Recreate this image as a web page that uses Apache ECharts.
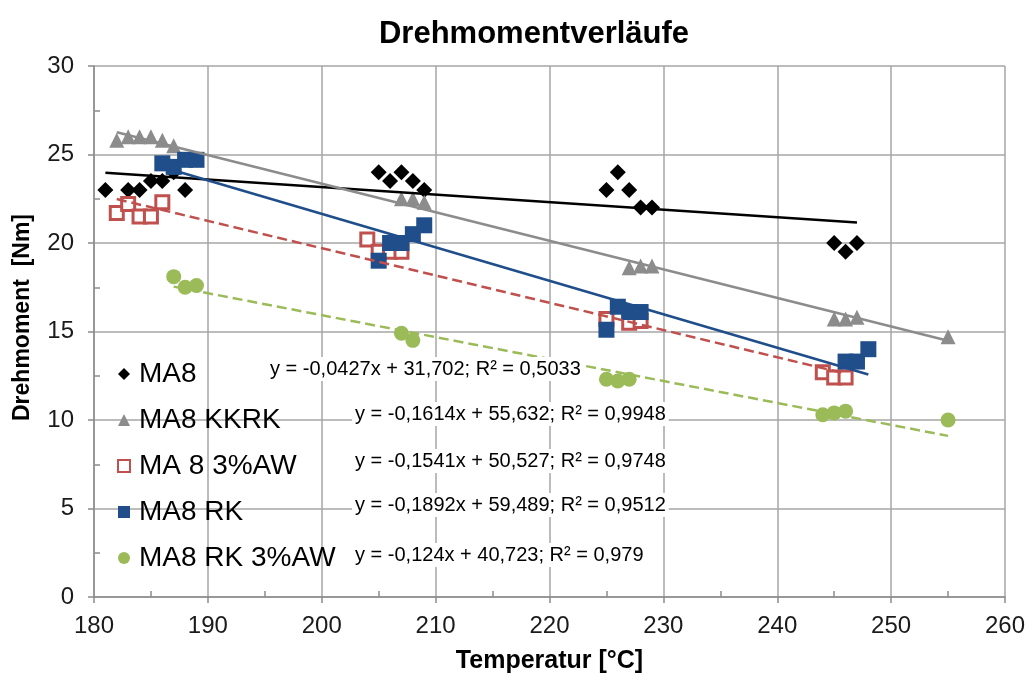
<!DOCTYPE html>
<html>
<head>
<meta charset="utf-8">
<script src="https://cdn.jsdelivr.net/npm/echarts@6/dist/echarts.min.js"></script>
<style>
  html, body { margin: 0; padding: 0; background: #ffffff; }
  #chart { width: 1028px; height: 673px; }
</style>
</head>
<body>
<div id="chart"></div>
<script>
// Torque measurements per material variant: temperature [°C] and torque [Nm]
const seriesNames = ['MA8', 'MA8 KKRK', 'MA 8 3%AW', 'MA8 RK', 'MA8 RK 3%AW'];

const ma8Temp     = [181, 183, 184, 185, 186, 187, 188, 205, 206, 207, 208, 209, 225, 226, 227, 228, 229, 245, 246, 247];
const ma8Torque   = [23, 23, 23, 23.5, 23.5, 24, 23, 24, 23.5, 24, 23.5, 23, 23, 24, 23, 22, 22, 20, 19.5, 20];

const kkrkTemp    = [182, 183, 184, 185, 186, 187, 207, 208, 209, 227, 228, 229, 245, 246, 247, 255];
const kkrkTorque  = [25.8, 26, 26, 26, 25.8, 25.5, 22.5, 22.5, 22.3, 18.6, 18.7, 18.7, 15.7, 15.7, 15.8, 14.7];

const aw3Temp     = [182, 183, 184, 185, 186, 204, 205, 206, 207, 225, 227, 228, 244, 245, 246];
const aw3Torque   = [21.7, 22.2, 21.5, 21.5, 22.3, 20.2, 19.5, 19.5, 19.5, 15.7, 15.5, 15.6, 12.7, 12.4, 12.4];

const rkTemp      = [186, 187, 188, 189, 205, 206, 207, 208, 209, 225, 226, 227, 228, 246, 247, 248];
const rkTorque    = [24.5, 24.3, 24.7, 24.7, 19, 20, 20, 20.5, 21, 15.1, 16.4, 16.1, 16.1, 13.3, 13.3, 14];

const rkAwTemp    = [187, 188, 189, 207, 208, 225, 226, 227, 244, 245, 246, 255];
const rkAwTorque  = [18.1, 17.5, 17.6, 14.9, 14.5, 12.3, 12.2, 12.3, 10.3, 10.4, 10.5, 10];

// Linear trendlines y = slope * x + intercept, with coefficient of determination
const trendSlopes     = [-0.0427, -0.1614, -0.1541, -0.1892, -0.124];
const trendIntercepts = [31.702, 55.632, 50.527, 59.489, 40.723];
const trendR2         = [0.5033, 0.9948, 0.9748, 0.9512, 0.979];

// Axis tick values
const xTicks = [180, 190, 200, 210, 220, 230, 240, 250, 260];
const yTicks = [0, 5, 10, 15, 20, 25, 30];

const temps   = [ma8Temp, kkrkTemp, aw3Temp, rkTemp, rkAwTemp];
const torques = [ma8Torque, kkrkTorque, aw3Torque, rkTorque, rkAwTorque];

const FONT = '"Liberation Sans", Arial, sans-serif';
const markers = [
  { symbol: 'diamond',  size: 16, itemStyle: { color: '#000000', opacity: 1 } },
  { symbol: 'triangle', size: 15, itemStyle: { color: '#8c8c8c', opacity: 1 } },
  { symbol: 'rect',     size: 13, itemStyle: { color: '#ffffff', borderColor: '#c0504d', borderWidth: 3, opacity: 1 } },
  { symbol: 'rect',     size: 16, itemStyle: { color: '#1f4e8a', opacity: 1 } },
  { symbol: 'circle',   size: 15, itemStyle: { color: '#9bbb59', opacity: 1 } }
];
const trendStyles = [
  { color: '#000000', type: 'solid' },
  { color: '#8c8c8c', type: 'solid' },
  { color: '#c0504d', type: 'dashed' },
  { color: '#1f4e8a', type: 'solid' },
  { color: '#9bbb59', type: 'dashed' }
];
// Where each trendline equation is printed (left edge x, middle y)
const eqPositions = [[267, 371], [352, 416], [352, 463], [352, 507], [352, 557]];

const fmt = v => String(v).replace('.', ',');

const series = [];
seriesNames.forEach((name, i) => {
  series.push({
    name: name,
    type: 'scatter',
    symbol: markers[i].symbol,
    symbolSize: markers[i].size,
    itemStyle: markers[i].itemStyle,
    z: 3,
    data: temps[i].map((t, k) => [t, torques[i][k]])
  });
});
seriesNames.forEach((name, i) => {
  const x0 = Math.min(...temps[i]);
  const x1 = Math.max(...temps[i]);
  series.push({
    name: name + ' Trend',
    type: 'line',
    symbol: 'none',
    silent: true,
    z: 4,
    lineStyle: { color: trendStyles[i].color, type: trendStyles[i].type, width: 2.5 },
    data: [[x0, trendSlopes[i] * x0 + trendIntercepts[i]], [x1, trendSlopes[i] * x1 + trendIntercepts[i]]]
  });
});

const chart = echarts.init(document.getElementById('chart'), null, { renderer: 'canvas' });

chart.setOption({
  animation: false,
  backgroundColor: '#ffffff',
  title: {
    text: 'Drehmomentverläufe',
    left: 529,
    textAlign: 'center',
    top: 14,
    textStyle: { fontFamily: FONT, fontWeight: 'bold', fontSize: 31, color: '#000000' }
  },
  legend: {
    data: seriesNames,
    orient: 'vertical',
    left: 112,
    top: 352,
    itemWidth: 12,
    itemHeight: 12,
    itemGap: 12,
    textStyle: { fontFamily: FONT, fontSize: 28, color: '#000000', lineHeight: 34, padding: [0, 0, 0, 4] }
  },
  grid: { left: 94, right: 23, top: 66, bottom: 76, containLabel: false, outerBoundsMode: 'none' },
  xAxis: {
    type: 'value',
    min: xTicks[0],
    max: xTicks[xTicks.length - 1],
    interval: xTicks[1] - xTicks[0],
    name: 'Temperatur [°C]',
    nameLocation: 'middle',
    nameGap: 52,
    nameTextStyle: { fontFamily: FONT, fontWeight: 'bold', fontSize: 25, color: '#000000' },
    axisLine: { show: true, onZero: false, lineStyle: { color: '#8c8c8c', width: 1.5 } },
    axisTick: { show: true, length: 6, lineStyle: { color: '#8c8c8c', width: 1.5 } },
    minorTick: { show: true, splitNumber: 2, length: -6, lineStyle: { color: '#8c8c8c', width: 1.5 } },
    axisLabel: { fontFamily: FONT, fontSize: 24, color: '#1a1a1a', margin: 17 },
    splitLine: { show: true, lineStyle: { color: '#a6a6a6', width: 1.5 } }
  },
  yAxis: {
    type: 'value',
    min: yTicks[0],
    max: yTicks[yTicks.length - 1],
    interval: yTicks[1] - yTicks[0],
    name: 'Drehmoment  [Nm]',
    nameLocation: 'middle',
    nameGap: 60,
    nameTextStyle: { fontFamily: FONT, fontWeight: 'bold', fontSize: 23, color: '#000000', padding: [0, 0, 0, 28] },
    axisLine: { show: true, onZero: false, lineStyle: { color: '#8c8c8c', width: 1.5 } },
    axisTick: { show: true, length: 6, lineStyle: { color: '#8c8c8c', width: 1.5 } },
    minorTick: { show: true, splitNumber: 2, length: -6, lineStyle: { color: '#8c8c8c', width: 1.5 } },
    axisLabel: { fontFamily: FONT, fontSize: 24, color: '#1a1a1a', margin: 20 },
    splitLine: { show: true, lineStyle: { color: '#a6a6a6', width: 1.5 } }
  },
  graphic: seriesNames.map((name, i) => ({
    type: 'text',
    left: eqPositions[i][0],
    top: eqPositions[i][1] - 14,
    z: 10,
    style: {
      text: 'y = ' + fmt(trendSlopes[i]) + 'x + ' + fmt(trendIntercepts[i]) + '; R² = ' + fmt(trendR2[i]),
      font: '20px ' + FONT,
      fill: '#000000',
      backgroundColor: '#ffffff',
      padding: [2, 3, 2, 3]
    }
  })),
  series: series
});
</script>
</body>
</html>
